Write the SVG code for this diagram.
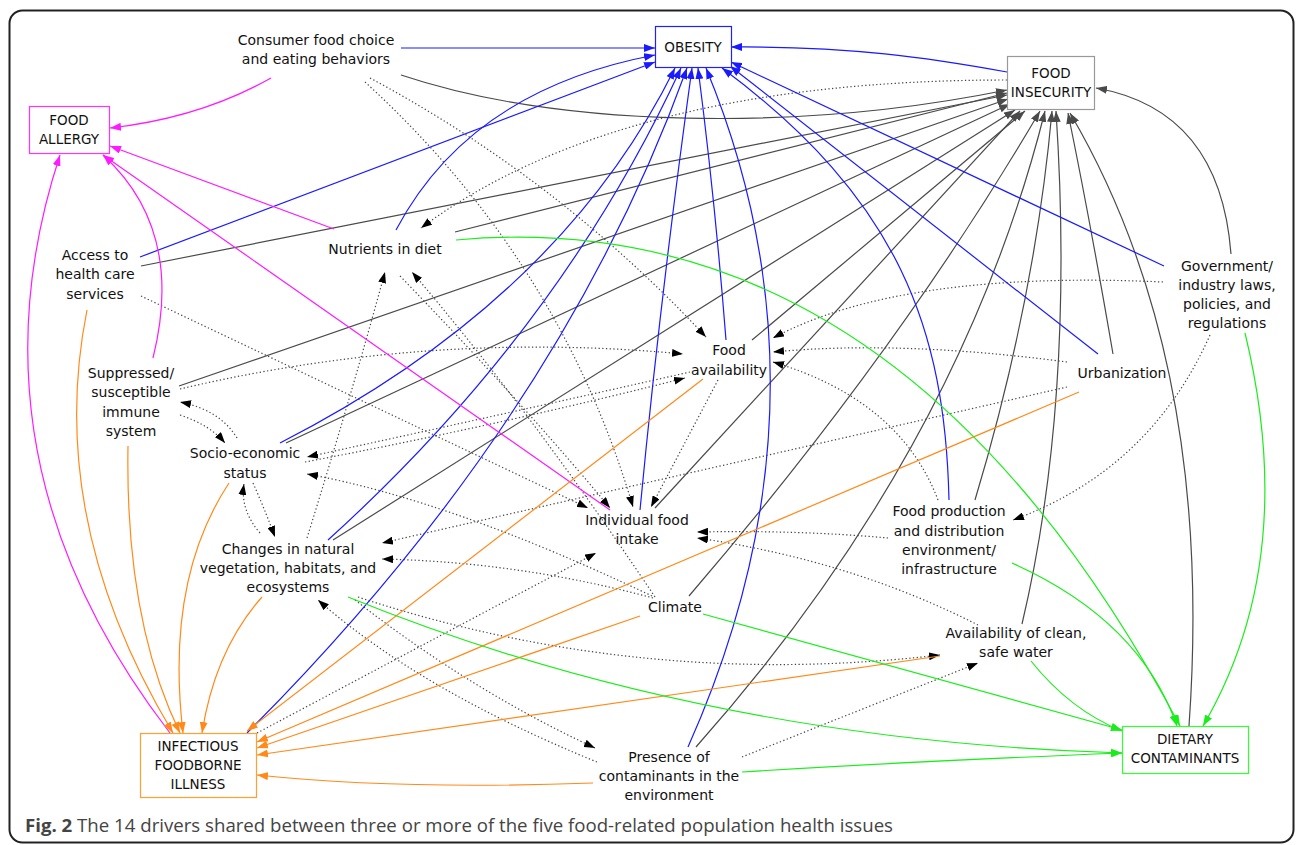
<svg xmlns="http://www.w3.org/2000/svg" width="1296" height="845" viewBox="0 0 1296 845">
<defs>
<marker id="mb" markerUnits="userSpaceOnUse" markerWidth="12" markerHeight="8" refX="11" refY="4" orient="auto"><path d="M0,0 L11,4 L0,8 z" fill="#1a1aff"/></marker>
<marker id="mg" markerUnits="userSpaceOnUse" markerWidth="12" markerHeight="8" refX="11" refY="4" orient="auto"><path d="M0,0 L11,4 L0,8 z" fill="#4a4a4a"/></marker>
<marker id="mm" markerUnits="userSpaceOnUse" markerWidth="12" markerHeight="8" refX="11" refY="4" orient="auto"><path d="M0,0 L11,4 L0,8 z" fill="#ff1aff"/></marker>
<marker id="mo" markerUnits="userSpaceOnUse" markerWidth="12" markerHeight="8" refX="11" refY="4" orient="auto"><path d="M0,0 L11,4 L0,8 z" fill="#ff8a1a"/></marker>
<marker id="mn" markerUnits="userSpaceOnUse" markerWidth="12" markerHeight="8" refX="11" refY="4" orient="auto"><path d="M0,0 L11,4 L0,8 z" fill="#1aee1a"/></marker>
<marker id="md" markerUnits="userSpaceOnUse" markerWidth="12" markerHeight="8" refX="11" refY="4" orient="auto"><path d="M0,0 L11,4 L0,8 z" fill="#000"/></marker>
</defs>
<style>
.e{fill:none;stroke-width:1.2}
.b{stroke:#1a1aff;marker-end:url(#mb)}
.g{stroke:#4a4a4a;marker-end:url(#mg)}
.m{stroke:#ff1aff;marker-end:url(#mm)}
.o{stroke:#ff8a1a;marker-end:url(#mo)}
.n{stroke:#1aee1a;marker-end:url(#mn)}
.d{stroke:#444;stroke-dasharray:1.3 2.4;marker-end:url(#md)}
.t{font-family:"DejaVu Sans",Verdana,sans-serif;font-size:14px;fill:#111;text-anchor:middle}
.bt{font-family:"DejaVu Sans",Verdana,sans-serif;font-size:13.5px;fill:#111;text-anchor:middle}
.box{fill:#fff;stroke-width:1.2}
</style>
<rect x="0" y="0" width="1296" height="845" fill="#fff"/>
<rect x="9.5" y="10.5" width="1284" height="832" rx="13" fill="none" stroke="#222" stroke-width="2"/>
<g id="connectors">
<!-- dotted driver links -->
<path class="e d" d="M370,78 Q560,180 706,337"/>
<path class="e d" d="M365,82 Q560,260 633,507"/>
<path class="e d" d="M1007,80 Q620,80 421,228"/>
<path class="e d" d="M141,296 L588,508"/>
<path class="e d" d="M307,538 Q350,400 385,272"/>
<path class="e d" d="M400,276 Q520,400 610,508"/>
<path class="e d" d="M655,597 Q530,410 412,272"/>
<path class="e d" d="M718,380 L651,507"/>
<path class="e d" d="M180,389 Q430,330 683,354"/>
<path class="e d" d="M305,462 Q500,425 685,378"/>
<path class="e d" d="M690,372 Q500,415 307,457"/>
<path class="e d" d="M652,596 Q450,500 307,474"/>
<path class="e d" d="M180,415 Q210,425 225,443"/>
<path class="e d" d="M237,438 Q220,410 180,402"/>
<path class="e d" d="M260,533 Q240,510 244,484"/>
<path class="e d" d="M253,483 Q265,510 275,537"/>
<path class="e d" d="M1067,387 L382,543"/>
<path class="e d" d="M653,598 Q520,562 382,559"/>
<path class="e d" d="M597,762 Q420,690 318,600"/>
<path class="e d" d="M355,600 Q470,690 595,748"/>
<path class="e d" d="M358,597 Q640,690 940,655"/>
<path class="e d" d="M742,757 L978,663"/>
<path class="e d" d="M257,733 L596,553"/>
<path class="e d" d="M888,538 Q800,530 697,532"/>
<path class="e d" d="M978,625 Q850,560 697,538"/>
<path class="e d" d="M1163,282 Q900,270 773,338"/>
<path class="e d" d="M1067,362 Q900,340 773,352"/>
<path class="e d" d="M938,500 Q900,400 773,362"/>
<path class="e d" d="M1210,335 Q1150,470 1013,520"/>
<!-- gray to FOOD INSECURITY -->
<path class="e g" d="M401,75 C560,128 800,132 1007,90"/>
<path class="e g" d="M455,232 L1007,93"/>
<path class="e g" d="M141,266 L1007,95"/>
<path class="e g" d="M179,386 L1008,99"/>
<path class="e g" d="M286,443 L1010,104"/>
<path class="e g" d="M333,540 L1015,110"/>
<path class="e g" d="M655,508 L1020,111"/>
<path class="e g" d="M752,340 L1025,111"/>
<path class="e g" d="M689,596 Q900,350 1040,111"/>
<path class="e g" d="M696,747 Q960,450 1045,111"/>
<path class="e g" d="M975,500 Q1035,300 1052,111"/>
<path class="e g" d="M1022,624 Q1075,400 1056,111"/>
<path class="e g" d="M1113,354 Q1090,220 1068,113"/>
<path class="e g" d="M1189,726 Q1215,360 1070,113"/>
<path class="e g" d="M1231,254 Q1220,110 1096,88"/>
<!-- blue to OBESITY -->
<path class="e b" d="M401,48 L655,48"/>
<path class="e b" d="M140,257 L655,62"/>
<path class="e b" d="M396,230 Q470,90 655,55"/>
<path class="e b" d="M280,443 Q560,300 675,68"/>
<path class="e b" d="M328,540 Q560,330 681,68"/>
<path class="e b" d="M247,733 Q560,420 687,68"/>
<path class="e b" d="M640,510 Q660,300 692,68"/>
<path class="e b" d="M726,340 Q715,200 698,68"/>
<path class="e b" d="M688,747 Q843,400 706,68"/>
<path class="e b" d="M949,500 C945,330 900,200 722,68"/>
<path class="e b" d="M1098,354 L730,66"/>
<path class="e b" d="M1164,266 L731,62"/>
<path class="e b" d="M1007,72 C930,58 850,46 731,47"/>
<!-- magenta to FOOD ALLERGY -->
<path class="e m" d="M271,78 Q200,118 110,128"/>
<path class="e m" d="M334,229 L110,146"/>
<path class="e m" d="M610,510 L103,155"/>
<path class="e m" d="M153,358 Q185,230 103,155"/>
<path class="e m" d="M170,733 Q-40,460 60,155"/>
<!-- orange to INFECTIOUS FOODBORNE ILLNESS -->
<path class="e o" d="M87,310 Q45,520 173,733"/>
<path class="e o" d="M128,446 Q125,620 180,733"/>
<path class="e o" d="M229,483 Q165,580 183,733"/>
<path class="e o" d="M262,597 Q215,650 202,733"/>
<path class="e o" d="M703,379 L247,731"/>
<path class="e o" d="M1079,392 L257,742"/>
<path class="e o" d="M640,616 L257,748"/>
<path class="e o" d="M940,656 L257,755"/>
<path class="e o" d="M593,783 Q400,790 257,775"/>
<!-- green to DIETARY CONTAMINANTS -->
<path class="e n" d="M456,240 Q900,200 1180,726"/>
<path class="e n" d="M1245,333 Q1300,560 1203,726"/>
<path class="e n" d="M1012,563 Q1140,620 1177,726"/>
<path class="e n" d="M1031,661 Q1070,710 1122,731"/>
<path class="e n" d="M703,614 L1122,730"/>
<path class="e n" d="M348,597 Q700,740 1122,753"/>
<path class="e n" d="M742,772 Q900,762 1122,753"/>
</g>
<g id="obesity"><rect class="box" x="655.5" y="26.5" width="76" height="41" stroke="#2020ff"/><text class="bt" x="693" y="52">OBESITY</text></g>
<g id="food-insecurity"><rect class="box" x="1007.5" y="56.5" width="87" height="53" stroke="#999"/><text class="bt"><tspan x="1051" y="78">FOOD</tspan><tspan x="1051" y="97">INSECURITY</tspan></text></g>
<g id="food-allergy"><rect class="box" x="29.5" y="106.5" width="80" height="47" stroke="#ff33ff"/><text class="bt"><tspan x="69" y="125">FOOD</tspan><tspan x="69" y="144">ALLERGY</tspan></text></g>
<g id="infectious-foodborne-illness"><rect class="box" x="140.5" y="733.5" width="116" height="64" stroke="#ffa030"/><text class="bt"><tspan x="198" y="751">INFECTIOUS</tspan><tspan x="198" y="770">FOODBORNE</tspan><tspan x="198" y="789">ILLNESS</tspan></text></g>
<g id="dietary-contaminants"><rect class="box" x="1122.5" y="726.5" width="126" height="47" stroke="#33ff33"/><text class="bt"><tspan x="1185" y="744">DIETARY</tspan><tspan x="1185" y="763">CONTAMINANTS</tspan></text></g>
<g id="consumer-food-choice"><text class="t"><tspan x="316" y="45">Consumer food choice</tspan><tspan x="316" y="64">and eating behaviors</tspan></text></g>
<g id="nutrients-in-diet"><text class="t" x="385" y="254">Nutrients in diet</text></g>
<g id="access-health-care"><text class="t"><tspan x="95" y="260">Access to</tspan><tspan x="95" y="279">health care</tspan><tspan x="95" y="299">services</tspan></text></g>
<g id="food-availability"><text class="t"><tspan x="729" y="355">Food</tspan><tspan x="729" y="375">availability</tspan></text></g>
<g id="suppressed-immune"><text class="t"><tspan x="131" y="378">Suppressed/</tspan><tspan x="131" y="397">susceptible</tspan><tspan x="131" y="417">immune</tspan><tspan x="131" y="436">system</tspan></text></g>
<g id="socio-economic"><text class="t"><tspan x="245" y="458">Socio-economic</tspan><tspan x="245" y="478">status</tspan></text></g>
<g id="individual-food-intake"><text class="t"><tspan x="637" y="525">Individual food</tspan><tspan x="637" y="544">intake</tspan></text></g>
<g id="changes-natural"><text class="t"><tspan x="288" y="554">Changes in natural</tspan><tspan x="288" y="573">vegetation, habitats, and</tspan><tspan x="288" y="592">ecosystems</tspan></text></g>
<g id="climate"><text class="t" x="675" y="612">Climate</text></g>
<g id="government"><text class="t"><tspan x="1227" y="271">Government/</tspan><tspan x="1227" y="290">industry laws,</tspan><tspan x="1227" y="309">policies, and</tspan><tspan x="1227" y="328">regulations</tspan></text></g>
<g id="urbanization"><text class="t" x="1122" y="378">Urbanization</text></g>
<g id="food-production"><text class="t"><tspan x="949" y="516">Food production</tspan><tspan x="949" y="536">and distribution</tspan><tspan x="949" y="555">environment/</tspan><tspan x="949" y="574">infrastructure</tspan></text></g>
<g id="clean-water"><text class="t"><tspan x="1016" y="638">Availability of clean,</tspan><tspan x="1016" y="657">safe water</tspan></text></g>
<g id="presence-contaminants"><text class="t"><tspan x="669" y="762">Presence of</tspan><tspan x="669" y="781">contaminants in the</tspan><tspan x="669" y="800">environment</tspan></text></g>
<text x="25" y="832" textLength="868" lengthAdjust="spacingAndGlyphs" font-family="'Open Sans',sans-serif" font-size="18" fill="#444"><tspan font-weight="bold">Fig. 2</tspan> The 14 drivers shared between three or more of the five food-related population health issues</text>
</svg>
